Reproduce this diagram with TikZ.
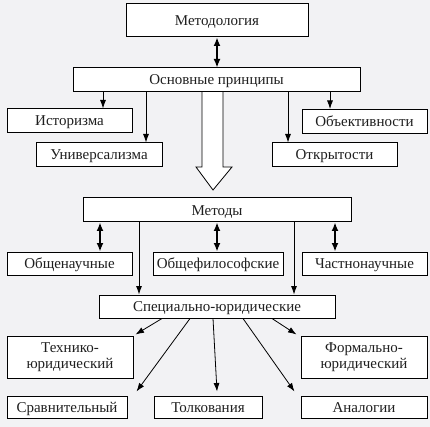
\documentclass[tikz,border=0pt]{standalone}
\usepackage{fontspec}
\setmainfont{Liberation Serif}
\usetikzlibrary{arrows.meta,calc}
\definecolor{bg}{HTML}{F2F2F4}
\begin{document}
\begin{tikzpicture}[x=1pt,y=-1pt,
  basebox/.style={draw=black,line width=1pt,fill=white,inner sep=0pt,
    font=\fontsize{15}{16.5}\selectfont,align=center,text=black!88},
  box/.style={basebox,text height=11pt,text depth=1pt},
  box2/.style={basebox},
  arr/.style={-{Latex[length=8.5pt,width=6pt]},line width=0.8pt},
  dbl/.style={{Latex[length=8.5pt,width=7pt]}-{Latex[length=8.5pt,width=7pt]},line width=1.5pt}]
\fill[bg] (0,0) rectangle (430,427);
\useasboundingbox (0,0) rectangle (430,427);

% column coordinates
\coordinate (c103) at (103,0);
\coordinate (c146) at (146,0);
\coordinate (c288) at (288,0);
\coordinate (c330) at (330,0);
\coordinate (c100) at (100,0);
\coordinate (c217) at (217,0);
\coordinate (c335) at (335,0);
\coordinate (c139) at (139,0);
\coordinate (c294) at (294,0);
\coordinate (s1) at (162,0);
\coordinate (s2) at (190,0);
\coordinate (s3) at (213,0);
\coordinate (s4) at (243,0);
\coordinate (s5) at (272,0);

% hollow arrow
\draw[line width=0.8pt,fill=white] (202,92) -- (202,167) -- (196,167) -- (213,190) -- (232,167) -- (223,167) -- (223,92);

\node[box,minimum width=182pt,minimum height=33pt] (metod) at (217,20.5) {Методология};
\node[box,minimum width=287pt,minimum height=24pt] (princ) at (216.5,80) {Основные принципы};
\node[box,minimum width=125pt,minimum height=24pt] (hist) at (69.5,121) {Историзма};
\node[box,minimum width=126pt,minimum height=24pt] (univ) at (99,155) {Универсализма};
\node[box,minimum width=125pt,minimum height=24pt] (obj) at (364.5,121.5) {Объективности};
\node[box,minimum width=125pt,minimum height=24pt] (otkr) at (334.5,155) {Открытости};
\node[box,minimum width=268pt,minimum height=24pt] (meth) at (217,210) {Методы};
\node[box,minimum width=125pt,minimum height=23pt] (gs) at (69.5,263.5) {Общенаучные};
\node[box,minimum width=130pt,minimum height=23pt] (phil) at (218,263.5) {Общефилософские};
\node[box,minimum width=125pt,minimum height=23pt] (ch) at (364.5,263.5) {Частнонаучные};
\node[box,minimum width=236pt,minimum height=23pt] (spec) at (217,306.5) {Специально-юридические};
\node[box2,minimum width=126pt,minimum height=42pt] (tech) at (70,357) {Технико-\\юридический};
\node[box2,minimum width=126pt,minimum height=42pt] (form) at (364,357) {Формально-\\юридический};
\node[box,minimum width=120pt,minimum height=22pt] (srav) at (67,407) {Сравнительный};
\node[box,minimum width=108pt,minimum height=22pt] (tolk) at (208,407) {Толкования};
\node[box,minimum width=126pt,minimum height=22pt] (anal) at (364,407) {Аналогии};

% connectors
\draw[dbl] (metod.south) -- (princ.north -| metod.south);
\draw[arr] (princ.south -| c103) -- (hist.north -| c103);
\draw[arr] (princ.south -| c146) -- (univ.north -| c146);
\draw[arr] (princ.south -| c288) -- (otkr.north -| c288);
\draw[arr] (princ.south -| c330) -- (obj.north -| c330);

\draw[dbl] (meth.south -| c100) -- (gs.north -| c100);
\draw[dbl] (meth.south -| c217) -- (phil.north -| c217);
\draw[dbl] (meth.south -| c335) -- (ch.north -| c335);
\draw[arr] (meth.south -| c139) -- (spec.north -| c139);
\draw[arr] (meth.south -| c294) -- (spec.north -| c294);

\draw[arr] (spec.south -| s1) -- ($(tech.north east)+(2,-1)$);
\draw[arr] (spec.south -| s2) -- ($(srav.north east)+(9,-4)$);
\draw[arr] (spec.south -| s3) -- ($(tolk.north)+(9,-4)$);
\draw[arr] (spec.south -| s4) -- ($(anal.north west)+(-6,-4)$);
\draw[arr] (spec.south -| s5) -- ($(form.north west)+(-4,-1)$);
\end{tikzpicture}
\end{document}
